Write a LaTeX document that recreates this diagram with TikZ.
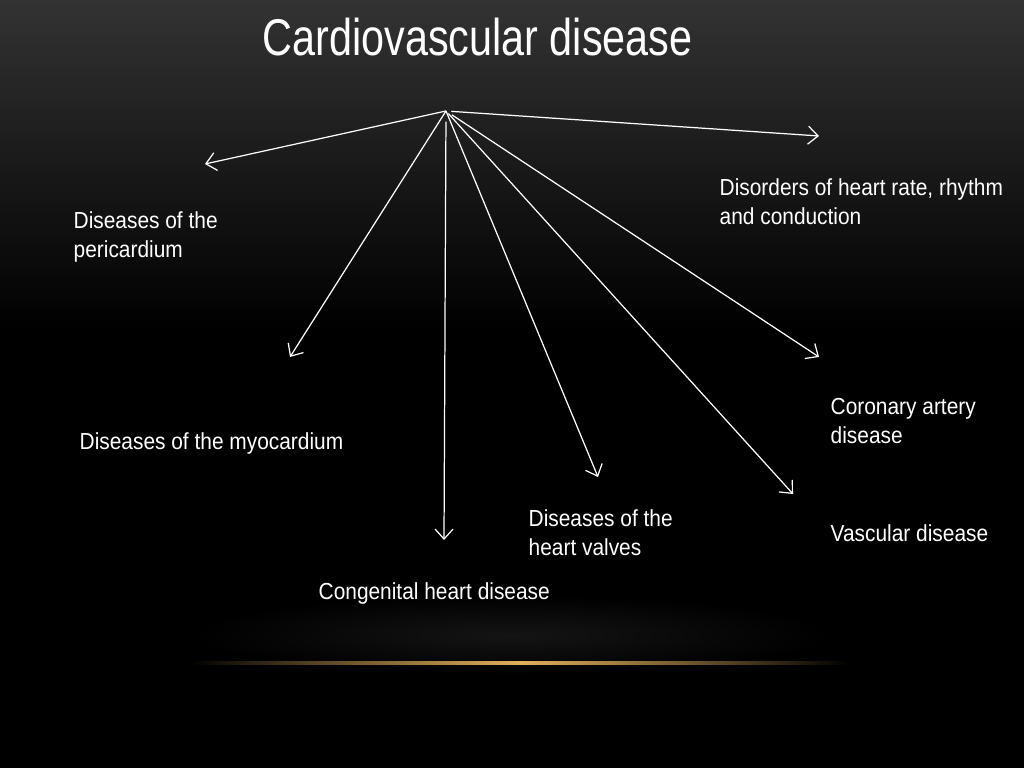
\documentclass[tikz,border=0pt]{standalone}
\usepackage{fontspec}
\setmainfont[FakeStretch=0.9]{Liberation Sans}
\newfontfamily\titlefont[FakeStretch=0.8]{Liberation Sans}
\usetikzlibrary{arrows.meta}
\definecolor{glowgold}{RGB}{226,176,92}
\tikzset{branch/.style={draw=white,line width=0.35pt,-{Straight Barb[length=1mm,width=1.8mm]}}}
\tikzset{topic/.style={text=white,font=\fontsize{6.6}{8.5}\selectfont,align=left,anchor=base west,inner sep=0pt}}

\begin{document}
\begin{tikzpicture}[x=0.01cm,y=-0.01cm]
\useasboundingbox (0,0) rectangle (1024,768);
\fill[black] (0,0) rectangle (1024,768);
\shade[top color=black!80!white,bottom color=black] (0,0) rectangle (1024,330);
\shade[inner color=black!92!white,outer color=black] (512,635) ellipse (320 and 40);
\shade[left color=black,right color=black,middle color=glowgold] (190,662) rectangle (850,665);

\node[text=white,font=\titlefont\fontsize{14.7}{17}\selectfont,anchor=base west,inner sep=0pt] (title) at (262,56) {Cardiovascular disease};

\coordinate (hub) at (446,111);
\coordinate (peri) at (205,164);
\coordinate (rate) at (819,136);
\coordinate (myo) at (290,357);
\coordinate (cong) at (444,540);
\coordinate (valve) at (598,477);
\coordinate (vasc) at (793,494);
\coordinate (coron) at (819,357);

\draw[branch] (hub) -- (peri);
\draw[branch,shorten <=1.5pt] (hub) -- (rate);
\draw[branch] (hub) -- (myo);
\draw[branch,shorten <=3pt] (hub) -- (cong);
\draw[branch] (hub) -- (valve);
\draw[branch,shorten <=1pt] (hub) -- (vasc);
\draw[branch,shorten <=2pt] (hub) -- (coron);

\node[topic] (pericardium) at (73,258) {Diseases of the\\pericardium};
\node[topic] (rhythm) at (719,225) {Disorders of heart rate, rhythm\\and conduction};
\node[topic] (myocardium) at (79,450) {Diseases of the myocardium};
\node[topic] (congenital) at (318,600) {Congenital heart disease};
\node[topic] (valves) at (528,556) {Diseases of the\\heart valves};
\node[topic] (coronary) at (830,444) {Coronary artery\\disease};
\node[topic] (vascular) at (830,542) {Vascular disease};
\end{tikzpicture}
\end{document}
